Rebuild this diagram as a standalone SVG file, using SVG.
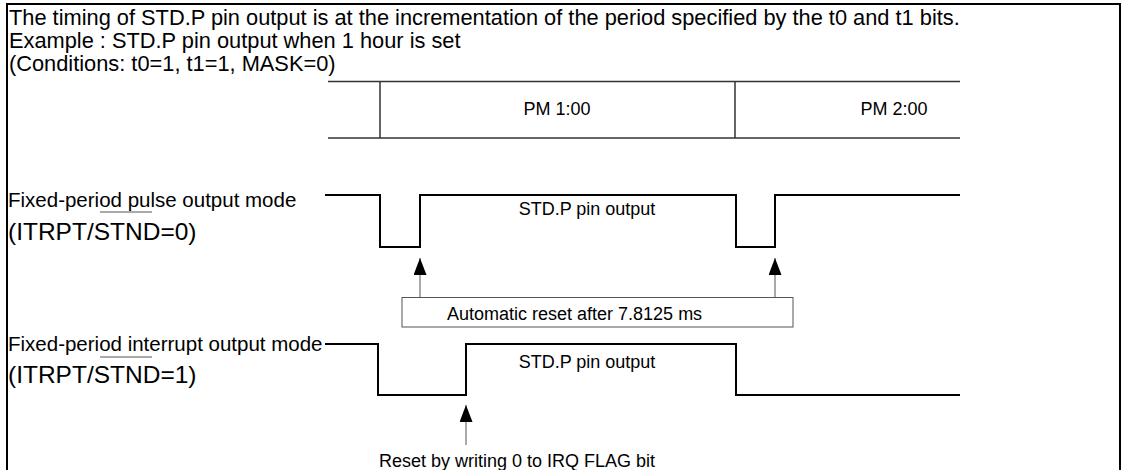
<svg xmlns="http://www.w3.org/2000/svg" width="1123" height="470" viewBox="0 0 1123 470">
<style>
text{font-family:"Liberation Sans",Arial,sans-serif;fill:#000}
.hd{font-size:21.8px}
.lb{font-size:20.5px}
.big{font-size:24.5px}
.sm{font-size:18px}
.wave{fill:none;stroke:#000;stroke-width:2}
.axis{fill:none;stroke:#333;stroke-width:1.5}
.thin{fill:none;stroke:#555;stroke-width:1}
</style>
<defs>
<marker id="ah" markerUnits="userSpaceOnUse" markerWidth="17" markerHeight="13" viewBox="0 0 17 13" refX="17" refY="6.5" orient="auto">
<path d="M0,0 L17,6.5 L0,13 Z" fill="#000"/>
</marker>
</defs>
<rect width="1123" height="470" fill="#fff"/>
<g id="frame">
<path d="M7,470 V4 H1120 V470" fill="none" stroke="#000" stroke-width="2"/>
</g>
<g id="header">
<text class="hd" x="9" y="25">The timing of STD.P pin output is at the incrementation of the period specified by the t0 and t1 bits.</text>
<text class="hd" x="9" y="48">Example : STD.P pin output when 1 hour is set</text>
<text class="hd" x="9" y="71">(Conditions: t0=1, t1=1, MASK=0)</text>
</g>
<g id="timeline">
<path class="axis" d="M328,81.5 H960 M328,138 H960 M380,81.5 V138 M735,81.5 V138"/>
<text class="sm" x="557" y="115" text-anchor="middle">PM 1:00</text>
<text class="sm" x="894" y="115" text-anchor="middle">PM 2:00</text>
</g>
<g id="pulse-mode">
<text class="lb" x="8" y="207">Fixed-period pulse output mode</text>
<text class="big" x="8" y="240">(ITRPT/STND=0)</text>
<line class="thin" x1="100" y1="212" x2="152" y2="212"/>
<polyline class="wave" points="325,195 380,195 380,247 420,247 420,195 736,195 736,247 775,247 775,195 960,195"/>
<text class="sm" x="587" y="215" text-anchor="middle">STD.P pin output</text>
</g>
<g id="auto-reset">
<rect class="thin" x="402" y="297.5" width="391" height="29.5"/>
<text class="sm" x="447" y="320">Automatic reset after 7.8125 ms</text>
</g>
<g id="interrupt-mode">
<text class="lb" x="8" y="351">Fixed-period interrupt output mode</text>
<text class="big" x="8" y="383">(ITRPT/STND=1)</text>
<line class="thin" x1="100" y1="357" x2="152" y2="357"/>
<polyline class="wave" points="325,344 378,344 378,395 466,395 466,344 736,344 736,395 960,395"/>
<text class="sm" x="587" y="368" text-anchor="middle">STD.P pin output</text>
</g>
<g id="irq-note">
<text class="sm" x="379" y="467">Reset by writing 0 to IRQ FLAG bit</text>
</g>
<g id="connectors">
<line class="thin" x1="420" y1="297" x2="420" y2="258" marker-end="url(#ah)"/>
<line class="thin" x1="775" y1="297" x2="775" y2="258" marker-end="url(#ah)"/>
<line class="thin" x1="466" y1="445" x2="466" y2="405" marker-end="url(#ah)"/>
</g>
</svg>
